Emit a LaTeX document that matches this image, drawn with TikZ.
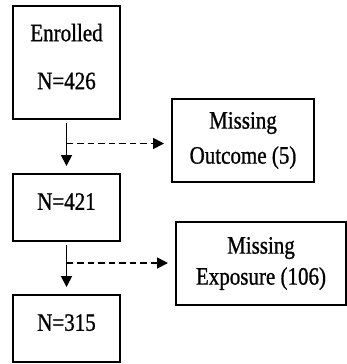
\documentclass[tikz,border=0pt]{standalone}
\usepackage{fontspec}
\setmainfont[FakeStretch=0.84,FakeBold=0.9]{Liberation Serif}
\usetikzlibrary{positioning,arrows.meta}

\begin{document}
\begin{tikzpicture}[x=1pt,y=-1pt,font=\fontsize{25}{30}\selectfont]
 \tikzset{box/.style={draw,line width=2pt,align=center,inner sep=0pt},
  arrow/.style={line width=1.8pt,shorten >=7pt,shorten <=3pt,-{Triangle[length=11pt,width=11pt]}},
  dasharrow/.style={arrow,dash pattern=on 6.5pt off 4pt,shorten <=0pt}}
 \useasboundingbox (0,0) rectangle (347,364);
 \node[box,minimum width=107,minimum height=113,text depth=12pt] (E) at (66.5,62.5) {Enrolled\\[18pt]N=426};
 \node[box,minimum width=107,minimum height=67,text depth=12pt] (B) at (66.5,207.5) {N=421};
 \node[box,minimum width=107,minimum height=67,text depth=12pt] (C) at (66.5,328.5) {N=315};
 \node[box,minimum width=142,minimum height=83] (O) at (243,140.5) {Missing\\[5pt]Outcome (5)};
 \node[box,minimum width=170,minimum height=83] (X) at (261,263.5) {Missing\\[1pt]Exposure (106)};
 \coordinate[below=23.5pt of E.south] (j1);
 \coordinate[below=21pt of B.south] (j2);

 \draw[arrow] (E) -- (B);
 \draw[arrow] (B) -- (C);
 \draw[dasharrow] (j1) -- (j1 -| O.west);
 \draw[dasharrow] (j2) -- (j2 -| X.west);
\end{tikzpicture}
\end{document}
